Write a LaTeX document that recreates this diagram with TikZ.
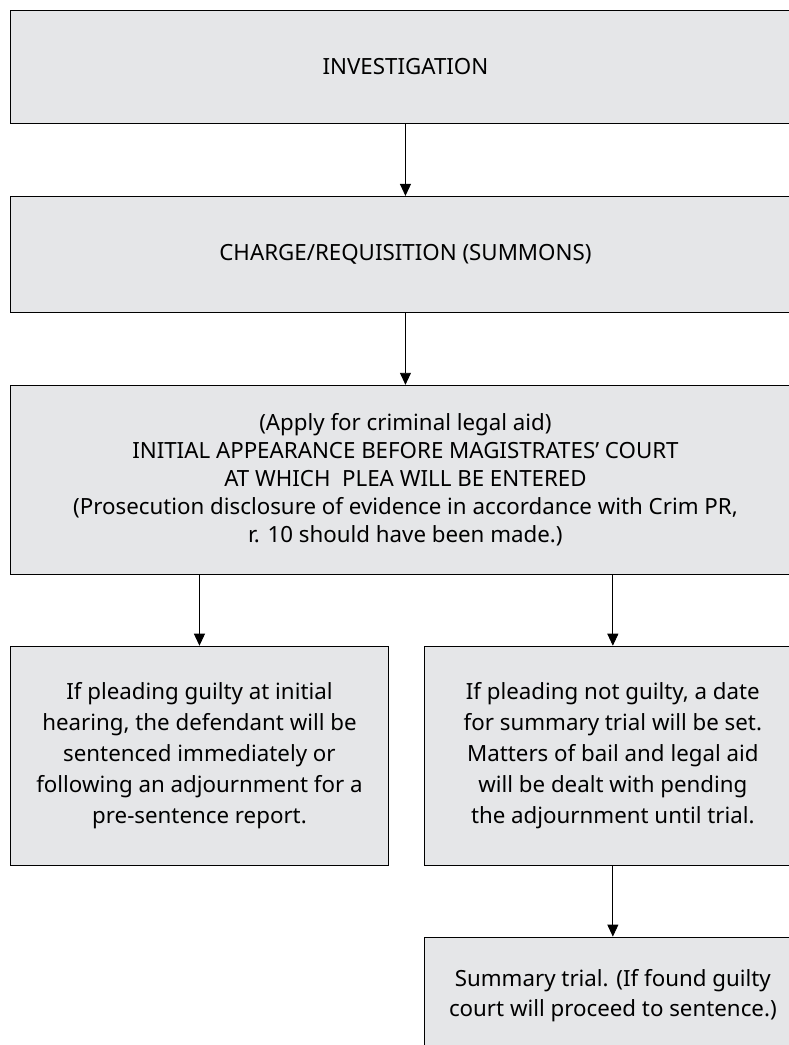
\documentclass[tikz,border=0pt]{standalone}
\usepackage{fontspec}
\setmainfont{Noto Sans}
\usetikzlibrary{arrows.meta, positioning}
\definecolor{boxgray}{HTML}{E5E6E8}

\begin{document}
\begin{tikzpicture}[
  x=1pt, y=1pt,
  node distance=72pt,
  box/.style={draw, fill=boxgray, line width=0.9pt, align=center, inner sep=0pt, font=\fontsize{22.3}{31}\selectfont},
  arrow/.style={-{Triangle[width=11pt,length=12pt]}, line width=0.9pt}
]
  \useasboundingbox (0,0) rectangle (789,-1045);
  \clip (0,0) rectangle (789,-1045);

  \node[box, minimum width=790pt, minimum height=113pt, anchor=north west] (inv) at (10,-10) {INVESTIGATION};
  \node[box, minimum width=790pt, minimum height=116pt, below=72pt of inv] (charge) {CHARGE/REQUISITION (SUMMONS)};
  \node[box, minimum width=790pt, minimum height=189pt, below=72pt of charge, font=\fontsize{22.3}{28}\selectfont] (appear)
    {(Apply for criminal legal aid)\\INITIAL APPEARANCE BEFORE MAGISTRATES’ COURT\\AT WHICH\ \ PLEA WILL BE ENTERED\\(Prosecution disclosure of evidence in accordance with Crim PR,\\r. 10 should have been made.)};

  \node[box, minimum width=378pt, minimum height=219pt, below=71pt of appear.south west, anchor=north west] (guilty)
    {If pleading guilty at initial\\hearing, the defendant will be\\sentenced immediately or\\following an adjournment for a\\pre-sentence report.};
  \node[box, minimum width=377pt, minimum height=219pt, right=35pt of guilty] (notguilty)
    {If pleading not guilty, a date\\for summary trial will be set.\\Matters of bail and legal aid\\will be dealt with pending\\the adjournment until trial.};
  \node[box, minimum width=377pt, minimum height=117pt, below=71pt of notguilty, font=\fontsize{22.3}{30}\selectfont] (trial)
    {Summary trial. (If found guilty\\court will proceed to sentence.)};

  \draw[arrow] (inv) -- (charge);
  \draw[arrow] (charge) -- (appear);
  \draw[arrow] (appear.south -| guilty) -- (guilty);
  \draw[arrow] (appear.south -| notguilty) -- (notguilty);
  \draw[arrow] (notguilty) -- (trial);
\end{tikzpicture}
\end{document}
